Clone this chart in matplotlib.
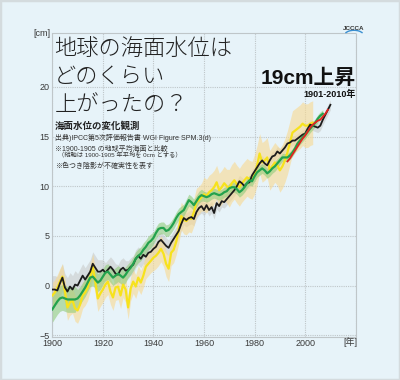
import numpy as np
import matplotlib as mpl
import matplotlib.pyplot as plt
from matplotlib.patches import Rectangle, Arc

mpl.use('agg')

plt.rcParams['font.family'] = ['Liberation Sans', 'Noto Sans CJK JP']

# ---------------------------------------------------------------- data [cm]
black_years = np.arange(1900, 2011)
black_vals = [
    -0.4, -0.4, -0.5, 0.2, 0.8, -0.2, -0.6, -0.1, -0.4, 0.1,
    0.0, 0.5, 1.0, 0.6, 1.0, 1.4, 2.2, 1.8, 1.4, 1.4,
    1.6, 1.3, 1.6, 1.9, 1.6, 1.2, 1.1, 1.6, 1.8, 1.5,
    1.6, 1.9, 2.1, 2.7, 3.0, 2.7, 3.1, 2.9, 3.3, 3.4,
    3.7, 3.9, 4.4, 4.6, 4.3, 4.0, 3.8, 4.3, 4.7, 5.1,
    5.5, 6.2, 6.8, 6.6, 6.8, 6.9, 6.7, 7.4, 7.8, 8.0,
    7.6, 8.1, 7.6, 7.9, 7.3, 8.3, 8.0, 8.5, 8.4, 8.7,
    9.0, 9.3, 9.6, 10.0, 10.5, 10.3, 10.0, 10.3, 10.4, 11.1,
    11.5, 11.9, 12.3, 12.6, 12.3, 12.1, 12.6, 13.0, 13.1, 13.5,
    13.3, 13.6, 13.9, 14.3, 14.4, 14.6, 14.6, 14.8, 15.0, 15.2,
    15.3, 15.8, 16.2, 16.1, 16.0, 15.9, 16.1, 16.7, 17.2, 17.7,
    18.2,
]
black_err = [1.4, 1.2, 1.0, 0.9, 0.8, 0.7, 0.6, 0.6, 0.5, 0.5, 0.5, 0.5]

yellow_years = np.arange(1900, 2004)
yellow_vals = [
    -1.0, -0.7, -0.2, 0.4, 0.9, -0.6, -2.2, -1.7, -1.5, -2.3,
    -2.5, -1.9, -1.0, -0.7, -0.2, 0.8, 1.9, 0.4, -1.3, -0.8,
    -0.4, 0.1, 0.4, -0.6, -1.2, -0.2, -0.1, -1.0, 0.1, -0.4,
    -2.2, -0.3, 0.4, -0.1, 0.8, 0.3, 1.0, 1.9, 2.2, 2.5,
    2.8, 3.0, 3.3, 3.7, 3.2, 2.2, 1.7, 3.3, 3.6, 4.4,
    5.6, 7.0, 6.6, 6.5, 6.8, 6.7, 7.4, 8.4, 8.6, 8.9,
    9.2, 9.0, 9.4, 9.6, 9.9, 10.4, 9.6, 9.9, 10.3, 10.0,
    9.8, 10.3, 10.6, 10.2, 9.9, 10.3, 10.6, 10.9, 10.7, 10.6,
    11.2, 12.1, 13.3, 12.4, 12.6, 12.9, 11.6, 12.0, 12.4, 12.1,
    11.6, 12.0, 12.6, 13.4, 14.4, 15.4, 15.6, 15.8, 16.0, 16.3,
    16.1, 16.1, 16.3, 16.4,
]
yellow_err = [1.3, 1.3, 1.3, 1.2, 1.3, 1.4, 1.7, 1.9, 2.0, 2.2, 2.2]

green_years = np.arange(1900, 2008)
green_vals = [
    -2.4, -2.0, -1.6, -1.3, -1.2, -1.3, -1.4, -1.4, -1.4, -1.4,
    -1.3, -1.0, -0.6, -0.2, 0.3, 0.8, 0.9, 0.6, 0.3, 0.5,
    0.9, 1.3, 1.4, 1.1, 0.8, 1.0, 1.2, 1.0, 0.8, 1.1,
    1.5, 1.8, 2.2, 2.7, 3.0, 3.2, 3.6, 3.9, 4.3, 4.5,
    4.8, 5.3, 5.7, 5.8, 5.8, 5.5, 5.6, 5.9, 6.3, 6.8,
    7.2, 7.4, 7.6, 8.1, 8.6, 8.4, 8.1, 8.5, 8.9, 9.1,
    9.0, 8.9, 9.0, 9.2, 9.3, 9.2, 9.1, 9.2, 9.4, 9.5,
    9.8, 9.9, 9.9, 9.7, 9.4, 9.6, 9.9, 10.3, 10.6, 10.5,
    11.0, 11.4, 11.6, 11.8, 11.6, 11.3, 11.5, 11.8, 12.0, 12.3,
    12.6, 12.9, 12.9, 12.9, 13.1, 13.4, 13.8, 14.3, 14.6, 14.9,
    15.2, 15.5, 15.8, 16.1, 16.4, 16.8, 17.1, 17.3,
]
green_err = [1.3, 0.9, 0.8, 0.7, 0.6, 0.6, 0.5, 0.5, 0.5, 0.4, 0.4]

red_years = np.arange(1993, 2010)
red_vals = [12.5, 12.8, 13.2, 13.6, 14.0, 14.4, 14.8, 15.1, 15.5,
            15.9, 16.2, 16.4, 16.6, 16.7, 17.0, 17.3, 17.7]

x_ticks = [1900, 1920, 1940, 1960, 1980, 2000, 2020]
x_labels = ['1900', '1920', '1940', '1960', '1980', '2000', '']
y_ticks = [-5, 0, 5, 10, 15, 20]

BG = '#e7f3f9'
GRID = '#bfc6c9'

################################################################################
fig = plt.figure(figsize=(4.0, 3.8), dpi=100, facecolor=BG)
ax = fig.add_axes([52.3 / 400, 1 - 336.7 / 380, 303.4 / 400, 303.4 / 380])
ax.set_facecolor(BG)
################################################################################


def band(years, vals, err):
    vals = np.asarray(vals)
    w = np.asarray(err)[(years - 1900) // 10]
    return vals - w, vals + w


lo, hi = band(black_years, black_vals, black_err)
ax.fill_between(black_years, lo, hi, color='#d3d9da', alpha=0.9, lw=0, zorder=1)
lo, hi = band(yellow_years, yellow_vals, yellow_err)
ax.fill_between(yellow_years, lo, hi, color='#f9d990', alpha=0.6, lw=0, zorder=2)
lo, hi = band(green_years, green_vals, green_err)
ax.fill_between(green_years, lo, hi, color='#92cc7c', alpha=0.6, lw=0, zorder=3)

ax.plot(yellow_years, yellow_vals, color='#f7e21c', lw=1.6, zorder=4)
ax.plot(black_years, black_vals, color='#1c1c1c', lw=1.3, zorder=5)
ax.plot(green_years, green_vals, color='#23a24d', lw=1.6, zorder=6)
ax.plot(red_years, red_vals, color='#e2231f', lw=1.3, zorder=7)

ax.set_xlim(1900, 2020)
ax.set_ylim(-5.15, 25.4)
ax.set_xticks(x_ticks)
ax.set_xticklabels(x_labels)
ax.set_yticks(y_ticks)
ax.tick_params(length=0, labelsize=6.5, labelcolor='#3a3a3a', pad=2)
ax.grid(True, color=GRID, lw=0.8, ls=(0, (1, 1)))
for sp in ax.spines.values():
    sp.set_color(GRID)
    sp.set_linewidth(0.8)
    sp.set_linestyle((0, (1, 1)))


def px(x, y):
    return x / 400, 1 - y / 380


fig.text(*px(51, 34), '[cm]', ha='right', va='center', fontsize=6.5, color='#3a3a3a')
fig.text(*px(350, 342.5), '[年]', ha='center', va='center', fontsize=6.5, color='#3a3a3a')

title_kw = dict(ha='left', va='center', fontsize=16, color='#222222',
                fontweight='light', family=['Noto Sans CJK JP'])
fig.text(*px(54, 49), '地球の海面水位は', **title_kw)
fig.text(*px(54, 77), 'どのくらい', **title_kw)
fig.text(*px(55, 105), '上がったの？', **title_kw)

fig.text(*px(355.5, 78), '19cm上昇', ha='right', va='center', fontsize=15,
         fontweight='bold', color='#111111')
fig.text(*px(355.5, 94), '1901-2010年', ha='right', va='center', fontsize=6.5,
         fontweight='bold', color='#111111')

fig.text(*px(55, 126), '海面水位の変化観測', ha='left', va='center', fontsize=6.8,
         fontweight='bold', color='#222222')
small = dict(ha='left', va='center', fontsize=5.0, color='#333333')
fig.text(*px(55, 138), '出典)IPCC第5次評価報告書 WGI Figure SPM.3(d)', **small)
fig.text(*px(55, 149), '※1900-1905 の地球平均海面と比較', **small)
fig.text(*px(58, 155.5), '（縦軸は 1900-1905 年平均を 0cm とする）', fontsize=4.5,
         ha='left', va='center', color='#333333')
fig.text(*px(55, 166.5), '※色つき陰影が不確実性を表す', **small)

# JCCCA logo
fig.text(*px(354, 29), 'JCCCA', ha='center', va='center', fontsize=4.5,
         fontweight='bold', color='#333333')
fig.patches.append(Arc(px(354, 36), 0.05, 0.03, theta1=20, theta2=160,
                       transform=fig.transFigure, color='#3a8fd0', lw=1.0))

# frame around picture
fig.patches.append(Rectangle((0, 0), 1, 1, transform=fig.transFigure,
                             fill=False, edgecolor='#d4dbde', lw=2.5))

plt.savefig('out.png', dpi=100, facecolor=BG)
